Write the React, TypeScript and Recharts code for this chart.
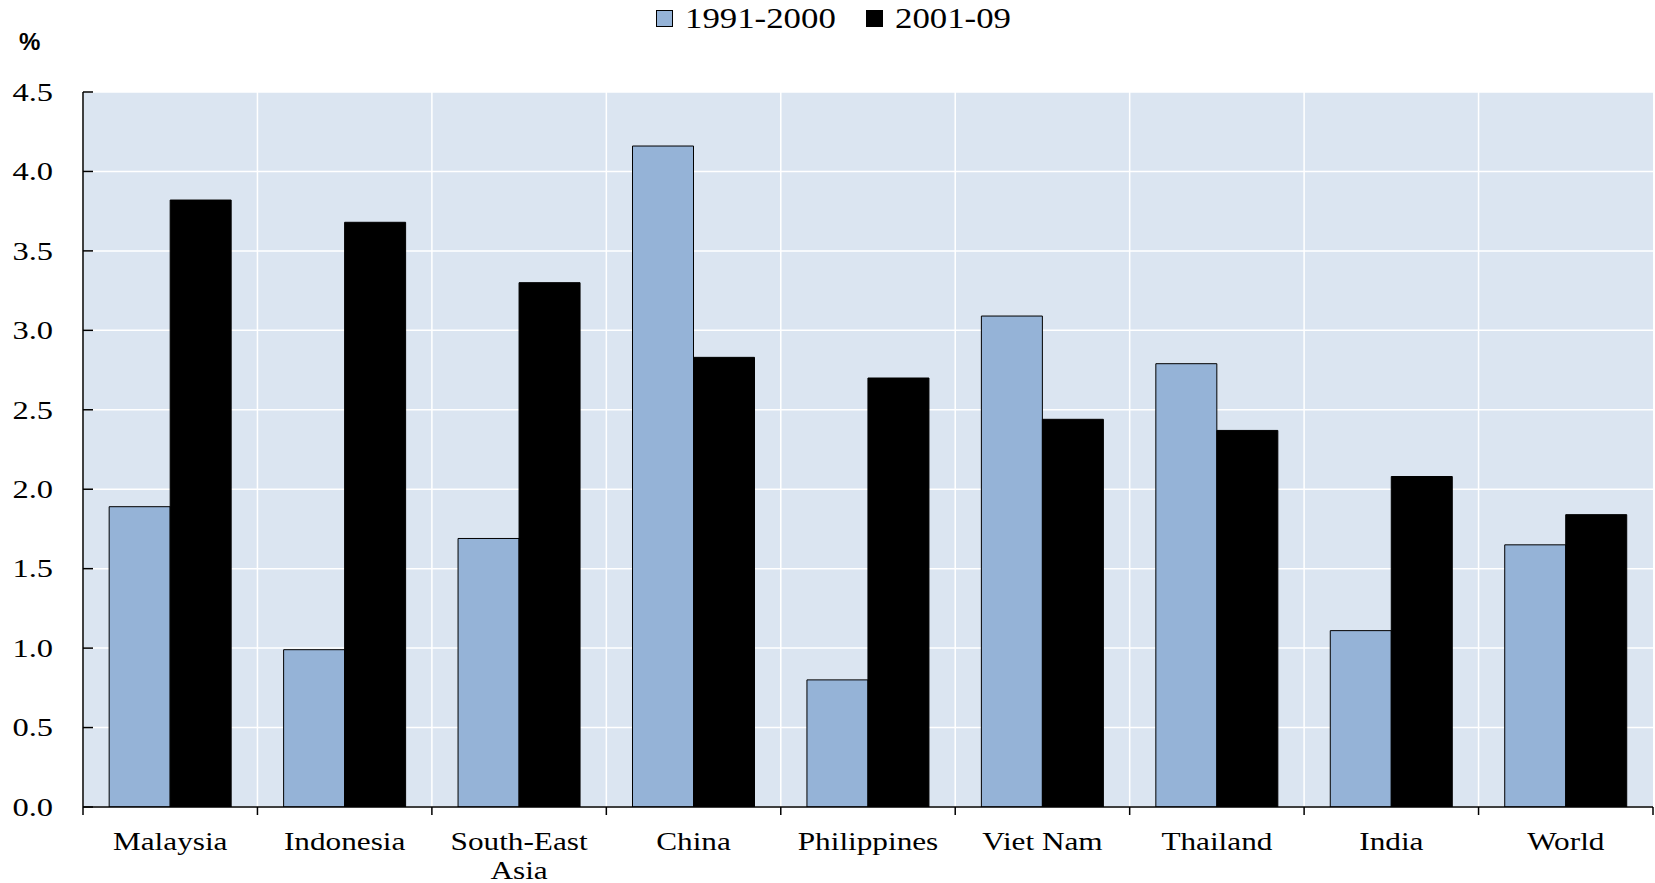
import React from "react";
import { BarChart, Bar, XAxis, YAxis, CartesianGrid } from "recharts";

const categories = ["Malaysia", "Indonesia", "South-East\nAsia", "China", "Philippines", "Viet Nam", "Thailand", "India", "World"];
const series1991 = [1.89, 0.99, 1.69, 4.16, 0.8, 3.09, 2.79, 1.11, 1.65];
const series2001 = [3.82, 3.68, 3.3, 2.83, 2.7, 2.44, 2.37, 2.08, 1.84];
const seriesNames = ["1991-2000", "2001-09"];
const yTicks = [0, 0.5, 1, 1.5, 2, 2.5, 3, 3.5, 4, 4.5];

const W = 1655;
const H = 883;
const M = { top: 92, right: 2, bottom: 0, left: 23 };
const Y_AXIS_W = 60;
const X_AXIS_H = 76;
const PLOT_W = W - M.left - Y_AXIS_W - M.right;
const BAND = PLOT_W / categories.length;

const BLUE = "#95B3D7";
const BG = "#DBE5F1";
const SERIF = "'Liberation Serif', 'Times New Roman', serif";

const data = categories.map((c, i) => ({ name: c, a: series1991[i], b: series2001[i] }));

const XTick = (props: any) => {
  const { x, y, payload, index } = props;
  const lines = String(payload.value).split("\n");
  const last = index === categories.length - 1;
  return (
    <g>
      <line x1={x - BAND / 2} x2={x - BAND / 2} y1={y} y2={y + 8} stroke="#000" strokeWidth={1.5} />
      {last && <line x1={x + BAND / 2} x2={x + BAND / 2} y1={y} y2={y + 8} stroke="#000" strokeWidth={1.5} />}
      {lines.map((l, i) => (
        <text
          key={i}
          transform={`translate(${x},${y + 43 + i * 29}) scale(1.25,1)`}
          textAnchor="middle"
          fontFamily={SERIF}
          fontSize={25}
          fill="#000"
        >
          {l}
        </text>
      ))}
    </g>
  );
};

const YTick = (props: any) => {
  const { x, y, payload } = props;
  return (
    <g>
      <line x1={x} x2={x + 10} y1={y} y2={y} stroke="#000" strokeWidth={1.5} />
      <text
        transform={`translate(${x - 30},${y}) scale(1.3,1)`}
        textAnchor="end"
        dy="0.35em"
        fontFamily={SERIF}
        fontSize={25}
        fill="#000"
      >
        {Number(payload.value).toFixed(1)}
      </text>
    </g>
  );
};

export default function App() {
  return (
    <div style={{ position: "absolute", left: 0, top: 0, width: W, height: H, background: "#fff" }}>
      <div
        style={{
          position: "absolute",
          left: 19,
          top: 30,
          fontFamily: "'Liberation Sans', Arial, sans-serif",
          fontWeight: "bold",
          fontSize: 24,
          lineHeight: "24px",
        }}
      >
        %
      </div>
      <div style={{ position: "absolute", left: 656, top: 2, height: 32, display: "flex", alignItems: "center" }}>
        {seriesNames.map((n, i) => (
          <div key={n} style={{ display: "flex", alignItems: "center", marginRight: i === 0 ? 28 : 0 }}>
            <div
              style={{
                width: 15,
                height: 15,
                border: "1px solid #000",
                background: i === 0 ? BLUE : "#000",
                marginRight: 12,
              }}
            />
            <div
              style={{
                fontFamily: SERIF,
                fontSize: 29,
                lineHeight: "32px",
                transform: "scaleX(1.2)",
                transformOrigin: "left center",
                width: i === 0 ? 153 : 118,
                whiteSpace: "nowrap",
              }}
            >
              {n}
            </div>
          </div>
        ))}
      </div>
      <div style={{ position: "absolute", left: 0, top: 0 }}>
        <BarChart width={W} height={H} data={data} margin={M} barCategoryGap="15%" barGap={0}>
          <CartesianGrid
            fill={BG}
            fillOpacity={1}
            stroke="#fff"
            strokeWidth={1.5}
            verticalCoordinatesGenerator={({ offset }: any) =>
              categories.map((_, i) => offset.left + (i * offset.width) / categories.length)
            }
          />
          <XAxis
            dataKey="name"
            height={X_AXIS_H}
            interval={0}
            tickLine={false}
            tickSize={0}
            tickMargin={0}
            axisLine={{ stroke: "#000", strokeWidth: 1.5 }}
            tick={<XTick />}
          />
          <XAxis xAxisId="top" dataKey="name" orientation="top" height={0} tick={false} tickLine={false} axisLine={{ stroke: "#000", strokeWidth: 1.5 }} />
          <YAxis
            width={Y_AXIS_W}
            domain={[0, 4.5]}
            ticks={yTicks}
            interval={0}
            allowDataOverflow
            tickLine={false}
            tickSize={0}
            tickMargin={0}
            axisLine={{ stroke: "#000", strokeWidth: 1.5 }}
            tick={<YTick />}
          />
          <YAxis yAxisId="right" orientation="right" width={0} domain={[0, 4.5]} tick={false} tickLine={false} axisLine={{ stroke: "#000", strokeWidth: 1.5 }} />
          <Bar dataKey="a" name={seriesNames[0]} fill={BLUE} stroke="#000" strokeWidth={1} isAnimationActive={false} />
          <Bar dataKey="b" name={seriesNames[1]} fill="#000" stroke="#000" strokeWidth={1} isAnimationActive={false} />
        </BarChart>
      </div>
    </div>
  );
}
